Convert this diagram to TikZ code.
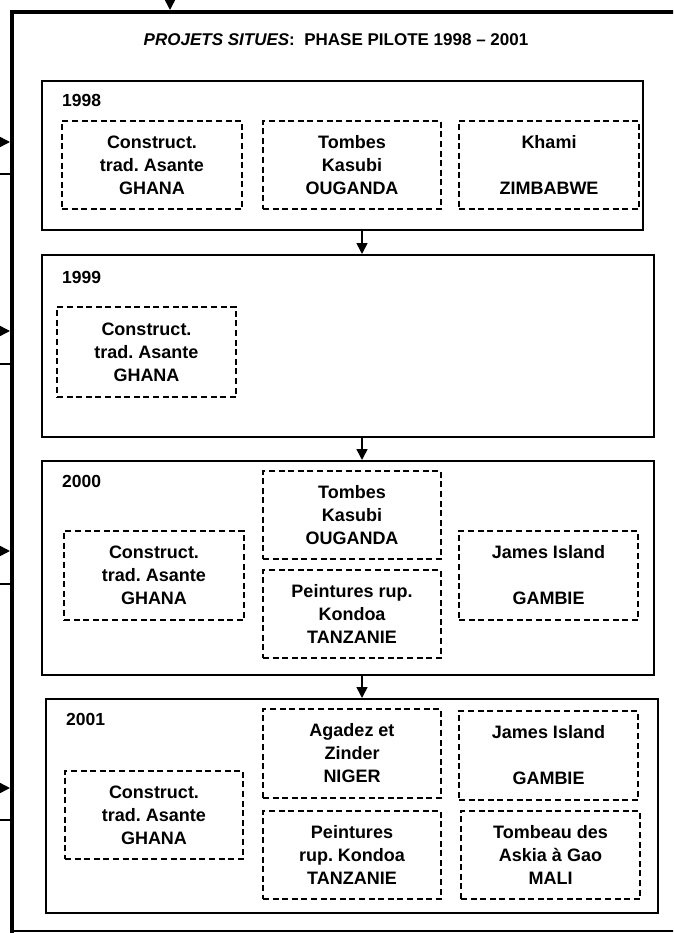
\documentclass[tikz,border=0pt]{standalone}
\usepackage{fontspec}
\setmainfont{Liberation Sans}
\usetikzlibrary{arrows.meta}
\frenchspacing
\begin{document}
\begin{tikzpicture}[x=1pt,y=-1pt,
  yearbox/.style={draw, line width=2pt, inner sep=0pt, anchor=north west},
  site/.style={draw, line width=1.6pt, dash pattern=on 6pt off 3.6pt, align=center,
    font=\fontsize{18}{23}\selectfont\bfseries, inner sep=0pt},
  yearlabel/.style={font=\fontsize{17.5}{20}\selectfont\bfseries, anchor=base west, inner sep=0pt},
  flow/.style={-{Triangle[length=11pt,width=11pt]}, line width=1.6pt},
  stub/.style={line width=1.4pt}
]
\useasboundingbox (0,0) rectangle (673,933);
\clip (0,0) rectangle (673,933);

% outer frame
\draw[line width=4.5pt] (12,935) -- (12,12) -- (676,12);
\draw[line width=1.6pt] (12,931) -- (676,931);
\coordinate (ftop) at (170,10);
\coordinate (tin) at (170,-12);
\draw[flow] (tin) -- (ftop);

% left stubs
\foreach \ya/\yb [count=\i] in {142/174, 331/364, 551/584, 788/820}{
  \coordinate (la\i) at (-20,\ya);
  \coordinate (lt\i) at (10,\ya);
  \draw[flow] (la\i) -- (lt\i);
  \coordinate (ls\i) at (-5,\yb);
  \coordinate (le\i) at (11,\yb);
  \draw[stub] (ls\i) -- (le\i);
}

% title
\node[font=\fontsize{17}{20}\selectfont\bfseries] (title) at (336,40)
  {\textit{PROJETS SITUES}:\ \ PHASE PILOTE 1998 -- 2001};

% year boxes
\node[yearbox, minimum width=601pt, minimum height=149pt] (y98) at (41,80) {};
\node[yearbox, minimum width=612pt, minimum height=182pt] (y99) at (41,254) {};
\node[yearbox, minimum width=612pt, minimum height=214pt] (y00) at (41,460) {};
\node[yearbox, minimum width=612pt, minimum height=214pt] (y01) at (45,698) {};

\node[yearlabel] (l98) at (62,107) {1998};
\node[yearlabel] (l99) at (62,283) {1999};
\node[yearlabel] (l00) at (62,487) {2000};
\node[yearlabel] (l01) at (66,725) {2001};

% arrows between years
\coordinate (ax) at (362,0);
\draw[flow] (ax |- y98.south) -- (ax |- y99.north);
\draw[flow] (ax |- y99.south) -- (ax |- y00.north);
\draw[flow] (ax |- y00.south) -- (ax |- y01.north);

% 1998
\node[site, minimum width=180pt, minimum height=88pt] (a98) at (152,165) {Construct.\\trad. Asante\\GHANA};
\node[site, minimum width=178pt, minimum height=88pt] (b98) at (352,165) {Tombes\\Kasubi\\OUGANDA};
\node[site, minimum width=180pt, minimum height=88pt] (c98) at (549,165) {Khami\\~\\ZIMBABWE};

% 1999
\node[site, minimum width=179pt, minimum height=90pt] (a99) at (146.5,352) {Construct.\\trad. Asante\\GHANA};

% 2000
\node[site, minimum width=180pt, minimum height=89pt] (a00) at (154,575.5) {Construct.\\trad. Asante\\GHANA};
\node[site, minimum width=178pt, minimum height=88pt] (b00) at (352,515) {Tombes\\Kasubi\\OUGANDA};
\node[site, minimum width=178pt, minimum height=88pt] (c00) at (352,614) {Peintures rup.\\Kondoa\\TANZANIE};
\node[site, minimum width=179pt, minimum height=89pt] (d00) at (548.5,575.5) {James Island\\~\\GAMBIE};

% 2001
\node[site, minimum width=178pt, minimum height=88pt] (a01) at (154,815) {Construct.\\trad. Asante\\GHANA};
\node[site, minimum width=178pt, minimum height=89pt] (b01) at (352,753.5) {Agadez et\\Zinder\\NIGER};
\node[site, minimum width=178pt, minimum height=88pt] (c01) at (352,855) {Peintures\\rup. Kondoa\\TANZANIE};
\node[site, minimum width=179pt, minimum height=89pt] (d01) at (548.5,755.5) {James Island\\~\\GAMBIE};
\node[site, minimum width=179pt, minimum height=88pt] (e01) at (550.5,855) {Tombeau des\\Askia à Gao\\MALI};
\end{tikzpicture}
\end{document}
